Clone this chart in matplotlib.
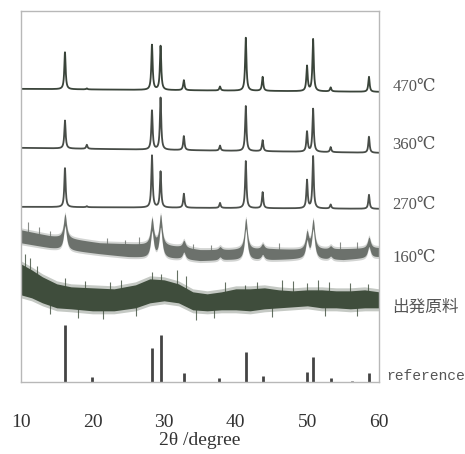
import numpy as np
import matplotlib
matplotlib.use("Agg")
import matplotlib.pyplot as plt

# peak positions (2theta) shared by all patterns
peak_pos = [16.15, 19.2, 28.3, 29.5, 32.75, 37.8, 41.4, 43.75, 49.95, 50.8, 53.25, 58.6]

# heights above baseline (arbitrary units)
h470 = [37, 1, 45, 44, 10, 4, 53, 14, 25, 52, 4, 15]
h360 = [28, 4, 39, 52, 14, 5, 45, 11, 20, 43, 5, 16]
h270 = [39, 1, 52, 36, 14, 5, 47, 16, 28, 52, 4, 14]
h160 = [24, 0, 26, 30, 7, 3, 31, 5, 17, 29, 3, 11]

# baselines at 10 and 60 degrees
base470 = [293, 290]
base360 = [234, 229]
base270 = [175, 173]

# noisy band of the 160C pattern (upper / lower edge)
band160_x = [10, 14, 21, 25, 28, 32, 35, 39, 45, 49, 55, 60]
band160_up = [152, 146, 139, 138, 137, 135, 132, 132, 133, 132, 133, 134]
band160_lo = [139, 134, 128, 125, 124, 123, 121, 122, 122, 123, 122, 125]
spk160_x = [11.0, 12.5, 14.0, 18.5, 22.0, 24.5, 26.5, 34.0, 36.5, 46.0, 54.5, 57.0]
spk160_y = [160, 155, 151, 140, 144, 142, 145, 138, 137, 139, 140, 140]

# starting material band
band0_x = [10, 11.5, 13, 15, 17, 20, 23, 26, 28, 30, 32, 34, 36, 38, 40,
           42, 44, 46, 48, 50, 52, 54, 56, 58, 60]
band0_up = [118, 112, 105, 98, 95, 94, 93, 97, 103, 102, 98, 90, 88, 90, 93,
            93, 94, 92, 91, 92, 92, 91, 91, 92, 90]
band0_lo = [87, 84, 79, 74, 73, 71, 71, 74, 79, 81, 79, 72, 71, 72, 72,
            71, 73, 74, 75, 76, 74, 74, 73, 74, 74]
spk0_x = [10.5, 11.2, 12.3, 16.2, 19.0, 22.5, 24.0, 28.3, 29.6, 31.8, 33.0,
          38.5, 41.3, 43.0, 46.5, 48.0, 49.9, 51.5, 53.0, 56.0, 58.5]
spk0_y = [128, 124, 116, 104, 101, 100, 102, 110, 108, 112, 106,
          100, 97, 100, 102, 101, 99, 102, 100, 99, 98]
dip0_x = [14.0, 18.0, 21.5, 26.0, 34.5, 37.0, 45.0, 52.5, 57.0]
dip0_y = [68, 64, 63, 66, 62, 64, 65, 66, 66]

# reference stick pattern
ref_pos = [16.15, 19.9, 28.3, 29.5, 32.75, 37.6, 41.4, 43.75, 49.95, 50.8, 53.25, 56.2, 58.6]
ref_h = [57, 5, 34, 47, 9, 4, 30, 6, 10, 25, 4, 1, 9]

labels = ["470℃", "360℃", "270℃", "160℃", "出発原料", "reference"]
label_y = [295, 237, 177, 124, 75, 6]

x = np.linspace(10, 60, 3001)


def peaks(heights, w):
    y = np.zeros_like(x)
    for p, h in zip(peak_pos, heights):
        y += h / (1 + ((x - p) / w) ** 2)
    return y


serif = ["Liberation Serif", "DejaVu Serif", "Noto Sans CJK JP"]

fig = plt.figure(figsize=(4.65, 4.54), dpi=100)
ax = fig.add_axes([0.045, 0.159, 0.77, 0.817])

for base, hs, col in [(base470, h470, "#3a443a"), (base360, h360, "#474c47"),
                      (base270, h270, "#4c504c")]:
    b = np.interp(x, [10, 60], base)
    ax.plot(x, b + peaks(hs, 0.11), color=col, lw=1.3)

# 160C: soft outer edge, solid core
c160 = "#6c716c"
p160 = peaks(h160, 0.25)
up = np.interp(x, band160_x, band160_up) + p160
lo = np.interp(x, band160_x, band160_lo) + p160
ax.fill_between(x, lo - 2, up + 2, color=c160, alpha=0.3, lw=0)
ax.fill_between(x, lo, up, color=c160, lw=0)
mid = np.interp(spk160_x, band160_x, band160_up)
ax.vlines(spk160_x, mid - 4, spk160_y, color=c160, lw=0.8, alpha=0.8)

# starting material
c0 = "#3f4d3c"
ax.fill_between(band0_x, np.array(band0_lo) - 3, np.array(band0_up) + 3,
                color=c0, alpha=0.3, lw=0)
ax.fill_between(band0_x, band0_lo, band0_up, color=c0, lw=0)
ax.vlines(spk0_x, np.interp(spk0_x, band0_x, band0_up) - 4, spk0_y, color=c0, lw=0.8, alpha=0.8)
ax.vlines(dip0_x, dip0_y, np.interp(dip0_x, band0_x, band0_lo) + 4, color=c0, lw=0.8, alpha=0.8)

# reference
ax.vlines(ref_pos, 0, ref_h, color="#444444", lw=2.0)

for t, yy in zip(labels, label_y):
    if t == "reference":
        ax.text(61.0, yy, t, fontsize=10.5, family=["Liberation Mono", "DejaVu Sans Mono"],
                color="#555555", va="center", ha="left")
    elif t == "出発原料":
        ax.text(61.9, yy, t, fontsize=12, family=["Noto Sans CJK JP"],
                color="#555555", va="center", ha="left")
    else:
        ax.text(61.9, yy, t, fontsize=12, family=serif,
                color="#555555", va="center", ha="left")

ax.set_xlim(10, 60)
ax.set_ylim(0, 371)
ax.set_xticks([10, 20, 30, 40, 50, 60])
ax.set_yticks([])
ax.tick_params(axis="x", length=0, pad=23, labelsize=14, labelcolor="#333333")
for lab in ax.get_xticklabels():
    lab.set_family(serif)
for s in ax.spines.values():
    s.set_color("#b8b8b8")
    s.set_linewidth(1.0)
ax.set_xlabel("2θ /degree", fontsize=14, family=serif, color="#333333", labelpad=1)

fig.savefig("out.png", dpi=100)
